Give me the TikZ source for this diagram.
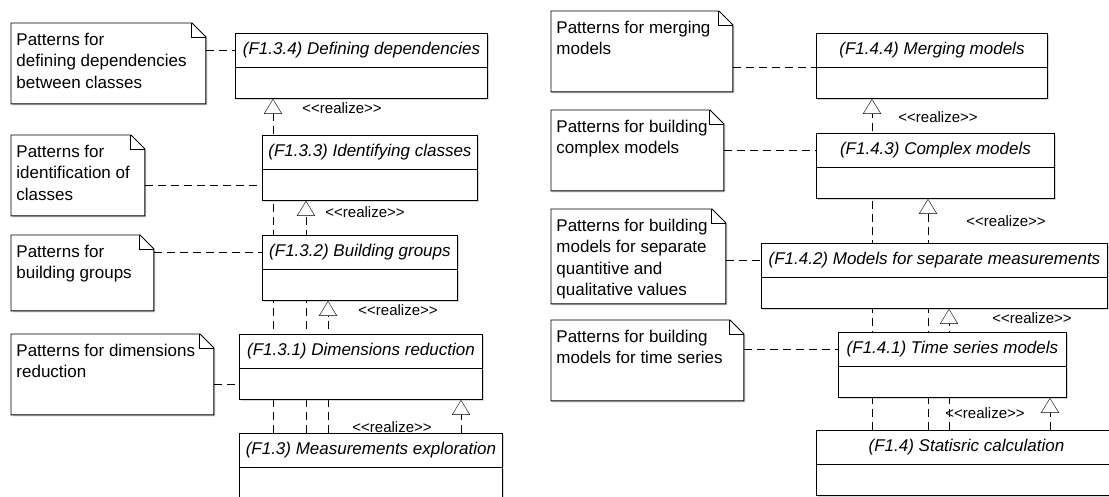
\documentclass[tikz,border=0pt]{standalone}
\usepackage{fontspec}
\setmainfont{Liberation Sans}
\usetikzlibrary{arrows.meta, positioning, backgrounds, shadows}
\tikzset{
    clshead/.style={draw, fill=white, anchor=north west, minimum height=33.5pt, inner sep=0pt,
        font=\fontsize{17}{21.5}\selectfont\itshape, drop shadow={shadow xshift=1.5pt, shadow yshift=-1.5pt, opacity=0.3}},
    clsbody/.style={draw, fill=white, minimum height=30.5pt, inner sep=0pt,
        drop shadow={shadow xshift=1.5pt, shadow yshift=-1.5pt, opacity=0.3}},
    notebox/.style={anchor=north west, inner sep=0pt},
    noteline/.style={draw, fill=white, drop shadow={shadow xshift=1.5pt, shadow yshift=-1.5pt, opacity=0.3}},
    notetext/.style={anchor=north west, align=left, inner sep=0pt, font=\fontsize{17}{21.5}\selectfont},
    dep/.style={dash pattern=on 8pt off 5pt},
    realize/.style={dash pattern=on 8pt off 5pt, -{Triangle[open, length=15pt, width=18pt]}},
    rlabel/.style={anchor=west, inner sep=0pt, font=\fontsize{15}{18}\selectfont}
}
\begin{document}
\begin{tikzpicture}[x=1pt, y=-1pt, line width=0.9pt]
    \useasboundingbox (0,0) rectangle (1109,496);

    % measurements exploration
    \node[clshead, minimum width=252pt] (f134) at (235,33) {(F1.3.4) Defining dependencies};
    \node[clsbody, minimum width=252pt, below=0pt of f134] (f134b) {};
    \node[clshead, minimum width=215pt] (f133) at (262,135) {(F1.3.3) Identifying classes};
    \node[clsbody, minimum width=215pt, below=0pt of f133] (f133b) {};
    \node[clshead, minimum width=195pt] (f132) at (262,235) {(F1.3.2) Building groups};
    \node[clsbody, minimum width=195pt, below=0pt of f132] (f132b) {};
    \node[clshead, minimum width=243pt] (f131) at (239,334) {(F1.3.1) Dimensions reduction};
    \node[clsbody, minimum width=243pt, below=0pt of f131] (f131b) {};
    \node[clshead, minimum width=263pt] (f13) at (239,433) {(F1.3) Measurements exploration};
    \node[clsbody, minimum width=263pt, minimum height=70pt, below=0pt of f13] (f13b) {};

    % statistic calculation
    \node[clshead, minimum width=231pt] (f144) at (816,33) {(F1.4.4) Merging models};
    \node[clsbody, minimum width=231pt, below=0pt of f144] (f144b) {};
    \node[clshead, minimum width=238pt] (f143) at (816,133) {(F1.4.3) Complex models};
    \node[clsbody, minimum width=238pt, below=0pt of f143] (f143b) {};
    \node[clshead, minimum width=346pt] (f142) at (761,243) {(F1.4.2) Models for separate measurements};
    \node[clsbody, minimum width=346pt, below=0pt of f142] (f142b) {};
    \node[clshead, minimum width=228pt] (f141) at (838,332) {(F1.4.1) Time series models};
    \node[clsbody, minimum width=228pt, below=0pt of f141] (f141b) {};
    \node[clshead, minimum width=300pt] (f14) at (816,430) {(F1.4) Statisric calculation};
    \node[clsbody, minimum width=300pt, below=0pt of f14] (f14b) {};

    % notes
    \node[notebox, minimum width=194pt, minimum height=80pt] (n134) at (11,23) {};
    \node[notebox, minimum width=133pt, minimum height=80pt] (n133) at (11,135) {};
    \node[notebox, minimum width=142pt, minimum height=75pt] (n132) at (11,235) {};
    \node[notebox, minimum width=202pt, minimum height=80pt] (n131) at (11,334) {};
    \node[notebox, minimum width=181pt, minimum height=80pt] (n144) at (551,11) {};
    \node[notebox, minimum width=172pt, minimum height=80pt] (n143) at (551,110) {};
    \node[notebox, minimum width=174pt, minimum height=94pt] (n142) at (551,209) {};
    \node[notebox, minimum width=192pt, minimum height=80pt] (n141) at (551,320) {};
    \foreach \n in {n134,n133,n132,n131,n144,n143,n142,n141} {
        \path[noteline] (\n.north west) -- ([xshift=-14pt]\n.north east) -- ([yshift=-14pt]\n.north east)
            -- (\n.south east) -- (\n.south west) -- cycle;
        \draw ([xshift=-14pt]\n.north east) |- ([yshift=-14pt]\n.north east);
    }
    \node[notetext] (t134) at ([xshift=5pt, yshift=-9.5pt]n134.north west) {Patterns for\\defining dependencies\\between classes};
    \node[notetext] (t133) at ([xshift=5pt, yshift=-9.5pt]n133.north west) {Patterns for\\identification of\\classes};
    \node[notetext] (t132) at ([xshift=5pt, yshift=-9.5pt]n132.north west) {Patterns for\\building groups};
    \node[notetext] (t131) at ([xshift=5pt, yshift=-9.5pt]n131.north west) {Patterns for dimensions\\reduction};
    \node[notetext] (t144) at ([xshift=5pt, yshift=-9.5pt]n144.north west) {Patterns for merging\\models};
    \node[notetext] (t143) at ([xshift=5pt, yshift=-9.5pt]n143.north west) {Patterns for building\\complex models};
    \node[notetext] (t142) at ([xshift=5pt, yshift=-9.5pt]n142.north west) {Patterns for building\\models for separate\\quantitive and\\qualitative values};
    \node[notetext] (t141) at ([xshift=5pt, yshift=-9.5pt]n141.north west) {Patterns for building\\models for time series};

    % note links
    \draw[dep] (n134.east |- f134.west) -- (f134.west);
    \draw[dep] (n133.east |- f133b.west) -- (f133b.west);
    \draw[dep] (n132.east |- f132.west) -- (f132.west);
    \draw[dep] (n131.east |- f131b.west) -- (f131b.west);
    \draw[dep] (n144.east |- f144.south west) -- (f144.south west);
    \draw[dep] (n143.east |- f143.west) -- (f143.west);
    \draw[dep] (n142.east |- f142.west) -- (f142.west);
    \draw[dep] (n141.east |- f141.west) -- (f141.west);

    % realizations, behind the boxes
    \begin{scope}[on background layer]
        \fill[white] (0,0) rectangle (1109,496);
        \foreach \x/\up in {273/f134b, 306/f133b, 328/f132b, 461/f131b}
            \draw[realize] (\x,0 |- f13.north) -- (\x,0 |- \up.south);
        \foreach \x/\up in {872/f144b, 928/f143b, 949/f142b, 1050/f141b}
            \draw[realize] (\x,0 |- f14.north) -- (\x,0 |- \up.south);
    \end{scope}

    \node[rlabel] (r134) at (302,108) {<{}<realize>{}>};
    \node[rlabel] (r133) at (325,212) {<{}<realize>{}>};
    \node[rlabel] (r132) at (358,310) {<{}<realize>{}>};
    \node[rlabel] (r131) at (352,427) {<{}<realize>{}>};
    \node[rlabel] (r144) at (898,117) {<{}<realize>{}>};
    \node[rlabel] (r143) at (966,221) {<{}<realize>{}>};
    \node[rlabel] (r142) at (992,318) {<{}<realize>{}>};
    \node[rlabel] (r141) at (945,413) {<{}<realize>{}>};
\end{tikzpicture}
\end{document}
